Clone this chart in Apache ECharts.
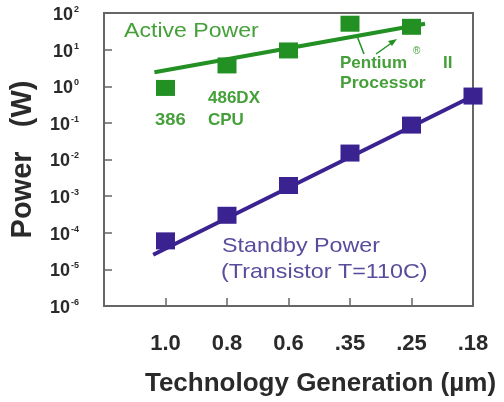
<!DOCTYPE html>
<html>
<head>
<meta charset="utf-8">
<script src="https://cdn.jsdelivr.net/npm/echarts@6/dist/echarts.min.js"></script>
<style>
  html, body { margin: 0; padding: 0; background: #fff; }
  #chart { width: 504px; height: 402px; }
</style>
</head>
<body>
<div id="chart"></div>
<script>
// Technology generations (µm) placed at positions 1..6 on the x axis
const generations = ['1.0', '0.8', '0.6', '.35', '.25', '.18'];
const genPos = [1, 2, 3, 4, 5, 6];

// Active power of each processor (W)
const activePower = [0.9, 3.7, 9.5, 51, 42];

// Standby power per generation (W), transistor at 110C
const standbyPower = [6e-5, 3e-4, 1.95e-3, 0.015, 0.087, 0.54];

// Fitted trend lines: [x position, watts]
const activeTrendX = [0.82, 5.22];
const activeTrendY = [2.4, 51];
const standbyTrendX = [0.8, 6];
const standbyTrendY = [2.5e-5, 0.54];

const GREEN = '#239023';
const GREEN_TEXT = '#45a03a';
const PURPLE = '#3a2290';
const PURPLE_TEXT = '#5a4c9c';
const AXIS = '#666666';
const INK = '#2a2a2a';
const FONT = '"Liberation Sans", Arial, sans-serif';

const chart = echarts.init(document.getElementById('chart'), null, { renderer: 'canvas' });

function pairs(xs, ys) { return xs.map((x, i) => [x, ys[i]]); }

// Annotation text, slightly widened horizontally
function note(text, x, y, color, font, sx) {
  return {
    type: 'text', x: x, y: y, scaleX: sx || 1, z: 10,
    style: { text: text, fill: color, font: font, align: 'left', verticalAlign: 'top' }
  };
}

const option = {
  backgroundColor: '#ffffff',
  animation: false,
  grid: {
    left: 103, top: 13, right: 31, bottom: 94,
    show: true, borderColor: AXIS, borderWidth: 2, backgroundColor: 'transparent'
  },
  xAxis: {
    type: 'value', min: 0, max: 6, interval: 1,
    name: 'Technology Generation (µm)',
    nameLocation: 'middle', nameGap: 65,
    nameTextStyle: { fontFamily: FONT, fontWeight: 'bold', fontSize: 26, color: INK, padding: [0, 0, 0, 64] },
    axisLine: { show: true, lineStyle: { color: AXIS, width: 2 } },
    axisTick: { show: true, inside: true, length: 8, lineStyle: { color: AXIS, width: 1.5 } },
    splitLine: { show: false },
    axisLabel: {
      margin: 27, fontFamily: FONT, fontWeight: 'bold', fontSize: 22, color: INK,
      formatter: v => { const i = genPos.indexOf(v); return i >= 0 ? generations[i] : ''; }
    }
  },
  yAxis: {
    type: 'log', logBase: 10, min: 1e-6, max: 100,
    name: 'Power   (W)',
    nameLocation: 'middle', nameGap: 67, nameRotate: 90,
    nameTextStyle: { fontFamily: FONT, fontWeight: 'bold', fontSize: 29, color: INK },
    axisLine: { show: true, lineStyle: { color: AXIS, width: 2 } },
    axisTick: { show: true, inside: true, length: 8, lineStyle: { color: AXIS, width: 1.5 } },
    splitLine: { show: false },
    axisLabel: {
      margin: 25,
      padding: [4, 0, 0, 0],
      formatter: v => '{b|10}{s|' + Math.round(Math.log10(v)) + '}',
      rich: {
        b: { fontFamily: FONT, fontWeight: 'bold', fontSize: 18, color: INK, lineHeight: 20 },
        s: { fontFamily: FONT, fontWeight: 'bold', fontSize: 9, color: INK, verticalAlign: 'top', lineHeight: 20, padding: [0, 0, 7, 1] }
      }
    }
  },
  series: [
    {
      name: 'Active trend', type: 'line', data: pairs(activeTrendX, activeTrendY),
      symbol: 'none', lineStyle: { color: GREEN, width: 4 }, z: 2
    },
    {
      name: 'Active Power', type: 'scatter', data: pairs(genPos.slice(0, activePower.length), activePower),
      symbol: 'rect', symbolSize: [19, 16], itemStyle: { color: GREEN, opacity: 1 }, z: 3
    },
    {
      name: 'Standby trend', type: 'line', data: pairs(standbyTrendX, standbyTrendY),
      symbol: 'none', lineStyle: { color: PURPLE, width: 4 }, z: 2
    },
    {
      name: 'Standby Power', type: 'scatter', data: pairs(genPos, standbyPower),
      symbol: 'rect', symbolSize: [19, 17], itemStyle: { color: PURPLE, opacity: 1 }, z: 3
    }
  ],
  graphic: [
    note('Active Power', 124, 21, GREEN_TEXT, '21px ' + FONT, 1.1),
    note('386', 155, 112, GREEN_TEXT, 'bold 17px ' + FONT, 1.08),
    note('486DX', 208, 90, GREEN_TEXT, 'bold 17px ' + FONT, 1.0),
    note('CPU', 208, 112, GREEN_TEXT, 'bold 17px ' + FONT, 1.0),
    note('Pentium', 340, 55, GREEN_TEXT, 'bold 17px ' + FONT, 1.0),
    note('®', 413, 46, GREEN_TEXT, '10px ' + FONT, 1.0),
    note('II', 443, 55, GREEN_TEXT, 'bold 17px ' + FONT, 1.0),
    note('Processor', 340, 75, GREEN_TEXT, 'bold 17px ' + FONT, 1.03),
    { type: 'line', z: 10, shape: { x1: 357, y1: 36, x2: 364, y2: 54 }, style: { stroke: GREEN, lineWidth: 1.5 } },
    { type: 'line', z: 10, shape: { x1: 376, y1: 54, x2: 393, y2: 42 }, style: { stroke: GREEN, lineWidth: 1.5 } },
    { type: 'polygon', z: 10, shape: { points: [[397, 39], [388, 41], [392, 46]] }, style: { fill: GREEN } },
    note('Standby Power', 222, 236, PURPLE_TEXT, '21px ' + FONT, 1.11),
    note('(Transistor T=110C)', 221, 262, PURPLE_TEXT, '21px ' + FONT, 1.11)
  ]
};

chart.setOption(option);
</script>
</body>
</html>
